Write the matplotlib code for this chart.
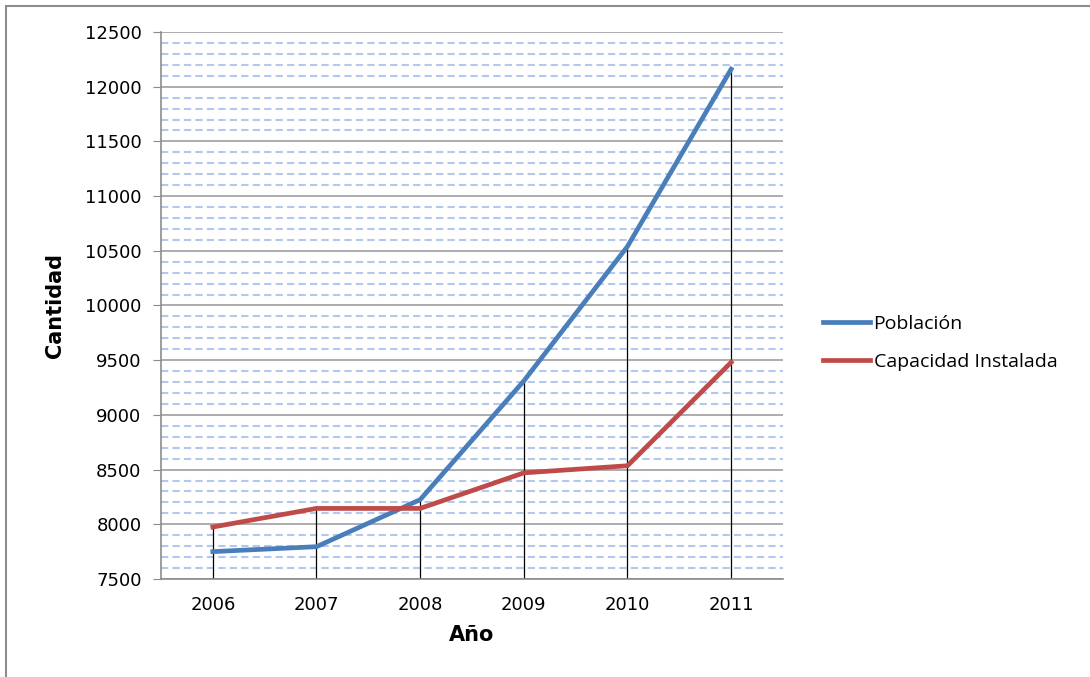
import matplotlib.pyplot as plt
from matplotlib.patches import Rectangle
from matplotlib.ticker import MultipleLocator

# datos
anios = ['2006', '2007', '2008', '2009', '2010', '2011']
poblacion = [7750, 7795, 8225, 9310, 10540, 12160]
capacidad = [7975, 8145, 8145, 8470, 8535, 9480]

fig = plt.figure(figsize=(10.9, 6.77), dpi=100)
fig.patches.append(Rectangle((6 / 1090, -0.1), 1.2, 1 - 6 / 677 + 0.1,
                             transform=fig.transFigure, fill=False,
                             edgecolor='#8c8c8c', linewidth=1.5))

ax = fig.add_axes([0.1477, 0.1448, 0.5706, 0.8079])
x = list(range(len(anios)))

ax.set_ylim(7500, 12500)
ax.set_xlim(-0.5, 5.5)
ax.yaxis.set_major_locator(MultipleLocator(500))
ax.yaxis.set_minor_locator(MultipleLocator(100))
ax.grid(which='minor', axis='y', color='#b3c8ec', linestyle=(0, (3.5, 2)), linewidth=1.5)
ax.grid(which='major', axis='y', color='#a6a6a6', linestyle='-', linewidth=1.3)
ax.set_axisbelow(True)

# lineas de caida
for xi, p, c in zip(x, poblacion, capacidad):
    ax.vlines(xi, 7500, max(p, c), color='black', linewidth=0.9, zorder=2)

ax.plot(x, poblacion, color='#4a7ebb', linewidth=3.4, label='Población', zorder=3)
ax.plot(x, capacidad, color='#be4b48', linewidth=3.4, label='Capacidad Instalada', zorder=3)

ax.set_xticks(x)
ax.set_xticklabels(anios)
ax.tick_params(axis='x', length=0, labelsize=13, pad=12)
ax.tick_params(axis='y', which='major', length=6, color='#8c8c8c', labelsize=13, pad=8)
ax.tick_params(axis='y', which='minor', length=0)

for s in ['top', 'right']:
    ax.spines[s].set_visible(False)
for s in ['left', 'bottom']:
    ax.spines[s].set_color('#8c8c8c')
    ax.spines[s].set_linewidth(1.2)

ax.set_xlabel('Año', fontsize=15, fontweight='bold', labelpad=8)
ax.set_ylabel('Cantidad', fontsize=15, fontweight='bold', labelpad=14)

fig.legend(loc='upper left', bbox_to_anchor=(0.739, 0.561), frameon=False,
           prop={'family': 'Open Sans', 'size': 14}, handlelength=2.4,
           handletextpad=0.2, labelspacing=1.05)

fig.savefig('out.png', dpi=100)
